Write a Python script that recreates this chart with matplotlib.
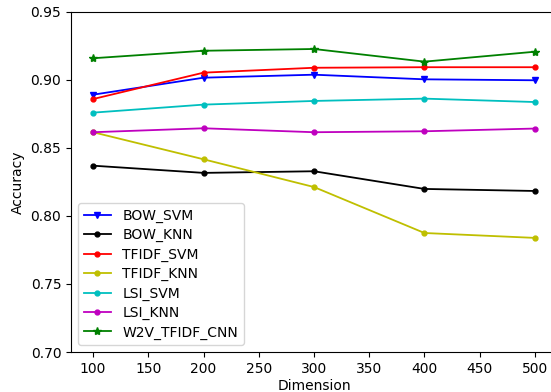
import matplotlib
matplotlib.use('Agg')
import matplotlib.pyplot as plt

dims = [100, 200, 300, 400, 500]

bow_svm = [0.8892, 0.9017, 0.9039, 0.9005, 0.8998]
bow_knn = [0.8370, 0.8317, 0.8329, 0.8199, 0.8184]
tfidf_svm = [0.8860, 0.9054, 0.9090, 0.9094, 0.9094]
tfidf_knn = [0.8616, 0.8417, 0.8213, 0.7875, 0.7839]
lsi_svm = [0.8760, 0.8819, 0.8846, 0.8863, 0.8838]
lsi_knn = [0.8616, 0.8645, 0.8616, 0.8623, 0.8643]
w2v_tfidf_cnn = [0.9160, 0.9215, 0.9228, 0.9135, 0.9208]

fig = plt.figure(figsize=(5.51, 3.92), dpi=100)
ax = fig.add_axes([71 / 551, 40 / 392, 486 / 551, 340 / 392])

lw = 1.3
ax.plot(dims, bow_svm, color='b', marker='v', markersize=5, lw=lw, label='BOW_SVM')
ax.plot(dims, bow_knn, color='k', marker='o', markersize=3.5, lw=lw, label='BOW_KNN')
ax.plot(dims, tfidf_svm, color='r', marker='o', markersize=3.5, lw=lw, label='TFIDF_SVM')
ax.plot(dims, tfidf_knn, color='y', marker='o', markersize=3.5, lw=lw, label='TFIDF_KNN')
ax.plot(dims, lsi_svm, color='c', marker='o', markersize=3.5, lw=lw, label='LSI_SVM')
ax.plot(dims, lsi_knn, color='m', marker='o', markersize=3.5, lw=lw, label='LSI_KNN')
ax.plot(dims, w2v_tfidf_cnn, color='g', marker='*', markersize=6, lw=lw, label='W2V_TFIDF_CNN')

ax.set_xlim(80, 520)
ax.set_ylim(0.70, 0.95)
ax.set_xticks([100, 150, 200, 250, 300, 350, 400, 450, 500])
ax.set_yticks([0.70, 0.75, 0.80, 0.85, 0.90, 0.95])
ax.set_xlabel('Dimension', labelpad=2)
ax.set_ylabel('Accuracy')

ax.legend(loc='lower left', fontsize=10, labelspacing=0.38)

fig.savefig('out.png', dpi=100)
